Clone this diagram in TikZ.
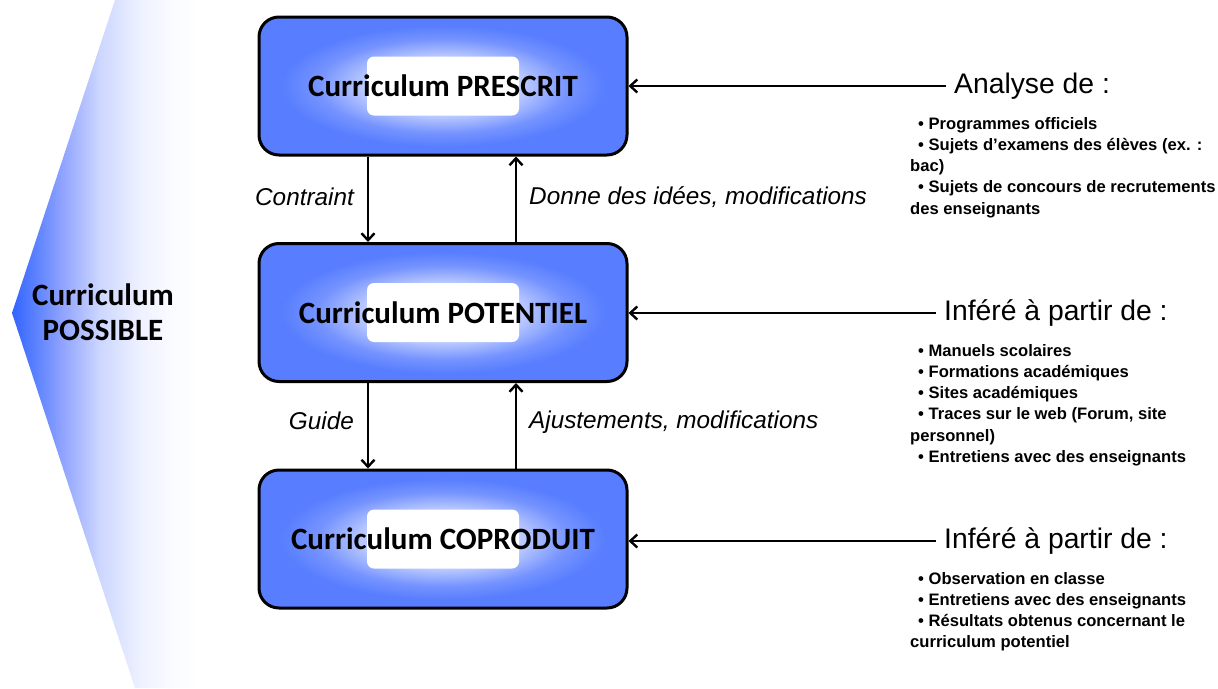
\documentclass[tikz,border=0pt]{standalone}
\usepackage{fontspec}
\setmainfont{Liberation Sans}
\newfontfamily\carlito{Carlito}
\usetikzlibrary{arrows.meta}
\definecolor{boxblue}{RGB}{88,126,255}
\definecolor{bA}{RGB}{118,148,255}
\definecolor{bB}{RGB}{185,200,255}
\definecolor{bC}{RGB}{228,234,255}
\definecolor{cA}{RGB}{50,100,255}
\definecolor{cB}{RGB}{100,135,255}
\definecolor{cC}{RGB}{140,160,255}
\definecolor{cD}{RGB}{205,215,255}
\definecolor{cE}{RGB}{238,241,255}
\definecolor{cF}{RGB}{250,251,255}
\pgfdeclareradialshading{boxsh}{\pgfpoint{0bp}{0bp}}{color(0bp)=(bC); color(6bp)=(bC); color(11bp)=(bB); color(17bp)=(bA); color(22bp)=(boxblue); color(50bp)=(boxblue)}
\pgfdeclarehorizontalshading{chevsh}{100bp}{color(0bp)=(cA); color(25bp)=(cA); color(29.5bp)=(cB); color(32.8bp)=(cC); color(39.3bp)=(cD); color(45.8bp)=(cE); color(50.6bp)=(cF); color(55.5bp)=(white); color(100bp)=(white)}
\begin{document}
\begin{tikzpicture}[x=1pt,y=-1pt,
  box/.style={draw=black, line width=3pt, rounded corners=20pt, minimum width=368pt, minimum height=138pt, shade, shading=boxsh, inner sep=0pt},
  hole/.style={fill=white, rounded corners=7pt, minimum width=152pt, minimum height=59pt, inner sep=0pt},
  boxtext/.style={font=\carlito\bfseries\fontsize{31}{35}\selectfont, inner sep=0pt},
  lbl/.style={font=\itshape\fontsize{24.3}{28}\selectfont, inner sep=0pt},
  head/.style={font=\fontsize{28.3}{32}\selectfont, inner xsep=8pt, inner ysep=0pt, anchor=west},
  lst/.style={font=\bfseries\fontsize{16.6}{21.2}\selectfont, align=left, inner sep=0pt, anchor=north west},
  arr/.style={line width=2.4pt, -{Straight Barb[length=7pt,width=13pt]}},
]
\useasboundingbox (0,0) rectangle (1218,688);
% left chevron
\shade[shading=chevsh] (115,0) -- (12,313) -- (135,688) -- (320,688) -- (320,0) -- cycle;
\node[boxtext, align=center] (poss) at (103,312) {Curriculum\\POSSIBLE};

% boxes
\node[box] (pre) at (443,86) {};
\node[hole] (preh) at (pre.center) {};
\node[boxtext] (pret) at (pre.center) {Curriculum PRESCRIT};

\node[box] (pot) at (443,312.5) {};
\node[hole] (poth) at (pot.center) {};
\node[boxtext] (pott) at (pot.center) {Curriculum POTENTIEL};

\node[box] (cop) at (443,539) {};
\node[hole] (coph) at (cop.center) {};
\node[boxtext] (copt) at (cop.center) {Curriculum COPRODUIT};

% vertical connectors
\draw[arr] ([xshift=-75pt]pre.south) -- ([xshift=-75pt]pot.north);
\draw[arr] ([xshift=73pt]pot.north) -- ([xshift=73pt]pre.south);
\draw[arr] ([xshift=-75pt]pot.south) -- ([xshift=-75pt]cop.north);
\draw[arr] ([xshift=73pt]cop.north) -- ([xshift=73pt]pot.south);

\node[lbl, anchor=east] (l1) at (354,197) {Contraint};
\node[lbl, anchor=west] (l2) at (529,197) {Donne des idées, modifications};
\node[lbl, anchor=east] (l3) at (354,421) {Guide};
\node[lbl, anchor=west] (l4) at (529,422) {Ajustements, modifications};

% right side
\node[head] (h1) at (946,86) {Analyse de :};
\node[head] (h2) at (936,313) {Inféré à partir de :};
\node[head] (h3) at (936,541) {Inféré à partir de :};
\draw[arr] (h1.west) -- (h1.west -| pre.east);
\draw[arr] (h2.west) -- (h2.west -| pot.east);
\draw[arr] (h3.west) -- (h3.west -| cop.east);

\node[lst] (s1) at (910,117) {\hspace*{8pt}• Programmes officiels\\
\hspace*{8pt}• Sujets d'examens des élèves (ex. :\\
bac)\\
\hspace*{8pt}• Sujets de concours de recrutements\\
des enseignants};
\node[lst] (s2) at (910,344) {\hspace*{8pt}• Manuels scolaires\\
\hspace*{8pt}• Formations académiques\\
\hspace*{8pt}• Sites académiques\\
\hspace*{8pt}• Traces sur le web (Forum, site\\
personnel)\\
\hspace*{8pt}• Entretiens avec des enseignants};
\node[lst] (s3) at (910,572) {\hspace*{8pt}• Observation en classe\\
\hspace*{8pt}• Entretiens avec des enseignants\\
\hspace*{8pt}• Résultats obtenus concernant le\\
curriculum potentiel};
\end{tikzpicture}
\end{document}
